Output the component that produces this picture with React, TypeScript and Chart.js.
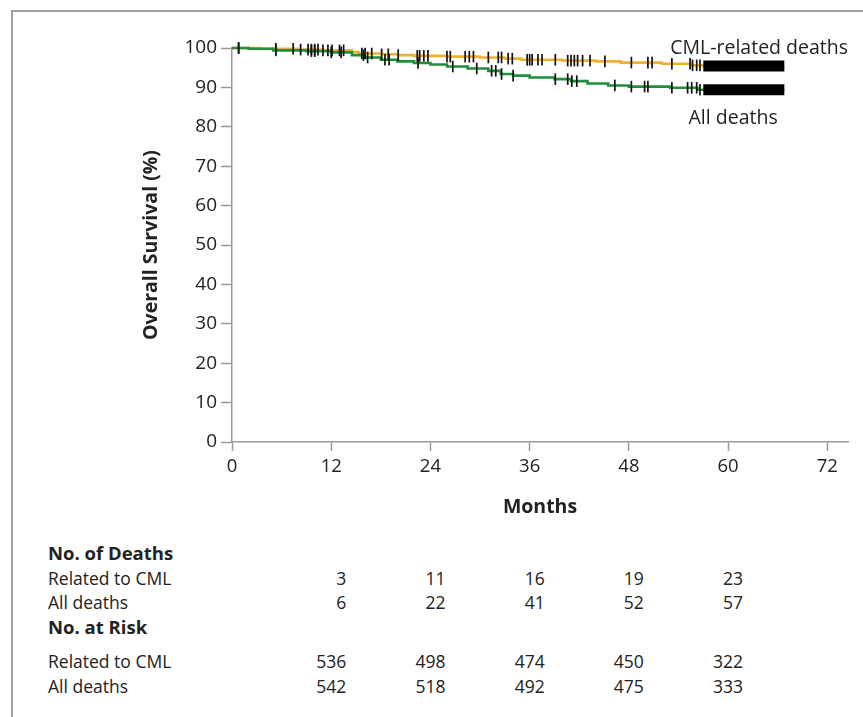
import React, { useEffect, useRef } from "react";
import { Chart, registerables } from "chart.js";
Chart.register(...registerables);

// ---------- data ----------
const xTickValues = [0, 12, 24, 36, 48, 60, 72];

const cmlTimes = [0, 3.5, 8, 11, 14.5, 15.3, 18, 20, 22, 26, 30, 33, 35, 40, 44, 47, 52, 55.5, 57, 66.8];
const cmlSurvival = [100, 99.8, 99.6, 99.4, 99.0, 98.6, 98.4, 98.2, 98.0, 97.8, 97.6, 97.3, 97.0, 96.8, 96.6, 96.3, 96.0, 95.6, 95.4, 95.4];

const allTimes = [0, 2, 5, 9, 12, 14.5, 16, 18, 20, 22, 24, 26, 28.5, 31, 32.5, 34, 36, 39, 41, 43, 45.5, 48, 53, 56.3, 66.8];
const allSurvival = [100, 99.8, 99.4, 99.2, 98.9, 98.2, 97.6, 97.0, 96.6, 96.2, 95.8, 95.3, 94.8, 94.2, 93.4, 93.0, 92.5, 92.1, 91.6, 91.0, 90.5, 90.2, 89.9, 89.4, 89.4];

const cmlCensorTimes = [0.8, 5.3, 7.4, 8.3, 9.2, 9.6, 10.0, 10.4, 11.0, 11.6, 12.1, 13.0, 13.5, 15.7, 16.1, 16.9, 18.1, 18.9, 20.1, 22.4, 22.7, 23.2, 23.7, 26.0, 26.4, 28.2, 28.7, 29.2, 31.0, 32.2, 32.6, 33.4, 33.9, 35.7, 36.0, 36.3, 37.0, 37.5, 39.1, 40.6, 41.0, 41.4, 41.8, 42.4, 43.3, 45.1, 48.3, 50.3, 50.8, 53.2, 55.4, 55.7, 56.2, 56.6];
const allCensorTimes = [0.8, 5.3, 9.6, 10.0, 12.0, 13.2, 15.9, 16.4, 18.5, 19.0, 22.5, 26.7, 29.6, 31.4, 31.9, 32.6, 34.0, 39.1, 40.6, 41.1, 41.7, 46.3, 48.3, 49.9, 50.3, 53.2, 55.1, 55.6, 56.2, 56.6];

// dense censoring block (start, end) in months
const denseCensorRange = [57.0, 66.8];

const tableMonths = [12, 24, 36, 48, 60];
const deathsCml = [3, 11, 16, 19, 23];
const deathsAll = [6, 22, 41, 52, 57];
const riskCml = [536, 498, 474, 450, 322];
const riskAll = [542, 518, 492, 475, 333];

// ---------- helpers ----------
const FONT = "'Open Sans', 'DejaVu Sans', sans-serif";
const ORANGE = "#f0b12c";
const GREEN = "#1f8f3c";
const AXIS = "#9a9a9a";
const TEXT = "#222";

function survAt(times: number[], surv: number[], t: number) {
  let v = surv[0];
  for (let i = 0; i < times.length; i++) if (times[i] <= t) v = surv[i];
  return v;
}

const CHART_LEFT = 232;
const CHART_TOP = 48;
const CHART_BOTTOM = 442;
const CANVAS_W = 863;
const CANVAS_H = 530;
const X_MAX = 74.5;
const CHART_RIGHT = 848;
const pxPerMonth = (CHART_RIGHT - CHART_LEFT) / X_MAX;

const labelPlugin = {
  id: "curveLabels",
  afterDatasetsDraw(chart: any) {
    const { ctx, chartArea, scales } = chart;
    ctx.save();
    ctx.fillStyle = TEXT;
    ctx.font = `19.5px ${FONT}`;
    ctx.textBaseline = "middle";
    ctx.textAlign = "right";
    ctx.fillText("CML-related deaths", chartArea.right, scales.y.getPixelForValue(100));
    ctx.textAlign = "center";
    ctx.fillText("All deaths", scales.x.getPixelForValue(60) + 5, scales.y.getPixelForValue(82));
    ctx.restore();
  },
};

export default function App() {
  const ref = useRef<HTMLCanvasElement>(null);
  useEffect(() => {
    document.body.style.margin = "0";
    const censor = (times: number[], surv: number[], cts: number[]) =>
      cts.map((t) => ({ x: t, y: survAt(times, surv, t) }));
    const censorStyle = {
      showLine: false,
      pointStyle: "line",
      rotation: 90,
      pointRadius: 5.8,
      borderColor: "#111",
      backgroundColor: "#111",
      pointBorderWidth: 1.7,
      order: 1,
      clip: false,
    };
    const denseStyle = {
      borderColor: "#000",
      borderWidth: 11,
      borderCapStyle: "butt",
      pointRadius: 0,
      order: 1,
      clip: false,
    };
    const chart = new Chart(ref.current!, {
      type: "line",
      data: {
        datasets: [
          { label: "CML censor", data: censor(cmlTimes, cmlSurvival, cmlCensorTimes), ...censorStyle } as any,
          { label: "All censor", data: censor(allTimes, allSurvival, allCensorTimes), ...censorStyle } as any,
          {
            label: "CML dense",
            data: denseCensorRange.map((t) => ({ x: t, y: survAt(cmlTimes, cmlSurvival, t) })),
            ...denseStyle,
          } as any,
          {
            label: "All dense",
            data: denseCensorRange.map((t) => ({ x: t, y: survAt(allTimes, allSurvival, t) })),
            ...denseStyle,
          } as any,
          {
            label: "All deaths",
            data: allTimes.map((t, i) => ({ x: t, y: allSurvival[i] })),
            borderColor: GREEN,
            borderWidth: 2.6,
            stepped: true,
            pointRadius: 0,
            order: 2,
            clip: false,
          } as any,
          {
            label: "CML-related deaths",
            data: cmlTimes.map((t, i) => ({ x: t, y: cmlSurvival[i] })),
            borderColor: ORANGE,
            borderWidth: 2.6,
            stepped: true,
            pointRadius: 0,
            order: 3,
            clip: false,
          } as any,
        ],
      },
      options: {
        animation: false,
        responsive: false,
        devicePixelRatio: 1,
        layout: {
          padding: { left: 0, top: CHART_TOP, right: CANVAS_W - CHART_RIGHT, bottom: 0 },
        },
        plugins: { legend: { display: false }, tooltip: { enabled: false } },
        scales: {
          x: {
            type: "linear",
            min: 0,
            max: X_MAX,
            afterFit: (s: any) => {
              s.height = CANVAS_H - CHART_BOTTOM;
            },
            afterBuildTicks: (s: any) => {
              s.ticks = xTickValues.map((v) => ({ value: v }));
            },
            ticks: {
              stepSize: 12,
              includeBounds: false,
              color: TEXT,
              font: { family: FONT, size: 18.5 },
              padding: 5,
              maxRotation: 0,
            },
            grid: { drawOnChartArea: false, drawTicks: true, tickLength: 9, color: AXIS, tickWidth: 1.5 },
            border: { color: AXIS, width: 1.5 },
            title: {
              display: true,
              text: "Months",
              color: TEXT,
              font: { family: FONT, size: 19.5, weight: "bold" },
              padding: { top: 0, bottom: 10.5 },
            },
          },
          y: {
            type: "linear",
            min: 0,
            max: 100,
            afterFit: (s: any) => {
              s.width = CHART_LEFT;
            },
            ticks: {
              stepSize: 10,
              color: TEXT,
              font: { family: FONT, size: 19 },
              padding: 4,
            },
            grid: { drawOnChartArea: false, drawTicks: true, tickLength: 11, color: AXIS, tickWidth: 1.5 },
            border: { color: AXIS, width: 1.5 },
            title: {
              display: true,
              text: "Overall Survival (%)",
              color: TEXT,
              font: { family: FONT, size: 19.5, weight: "bold" },
              padding: { top: 139.5, bottom: 0 },
            },
          },
        },
      },
      plugins: [labelPlugin],
    });
    return () => chart.destroy();
  }, []);

  const colRight = (m: number) => CHART_LEFT + m * pxPerMonth + 15;
  const rowStyle = (cy: number, bold = false): React.CSSProperties => ({
    position: "absolute",
    top: cy - 12,
    height: 24,
    lineHeight: "24px",
    fontSize: bold ? 18.5 : 17.5,
    fontWeight: bold ? 700 : 400,
    color: TEXT,
    whiteSpace: "nowrap",
  });
  const valueRow = (label: string, values: number[], cy: number) => (
    <React.Fragment key={label + cy}>
      <div style={{ ...rowStyle(cy), left: 48 }}>{label}</div>
      {values.map((v, i) => (
        <div
          key={i}
          style={{ ...rowStyle(cy), left: colRight(tableMonths[i]) - 60, width: 60, textAlign: "right" }}
        >
          {v}
        </div>
      ))}
    </React.Fragment>
  );

  return (
    <div
      style={{
        position: "relative",
        width: 863,
        height: 717,
        overflow: "hidden",
        background: "#fff",
        fontFamily: FONT,
      }}
    >
      <div
        style={{
          position: "absolute",
          left: 11,
          top: 10,
          width: 900,
          height: 800,
          borderLeft: "2px solid #a0a0a0",
          borderTop: "2px solid #a0a0a0",
        }}
      />
      <canvas
        ref={ref}
        width={CANVAS_W}
        height={CANVAS_H}
        style={{ position: "absolute", left: 0, top: 0, width: CANVAS_W, height: CANVAS_H }}
      />
      <div style={{ ...rowStyle(553, true), left: 48 }}>No. of Deaths</div>
      {valueRow("Related to CML", deathsCml, 578)}
      {valueRow("All deaths", deathsAll, 602)}
      <div style={{ ...rowStyle(627, true), left: 48 }}>No. at Risk</div>
      {valueRow("Related to CML", riskCml, 661)}
      {valueRow("All deaths", riskAll, 686)}
    </div>
  );
}
